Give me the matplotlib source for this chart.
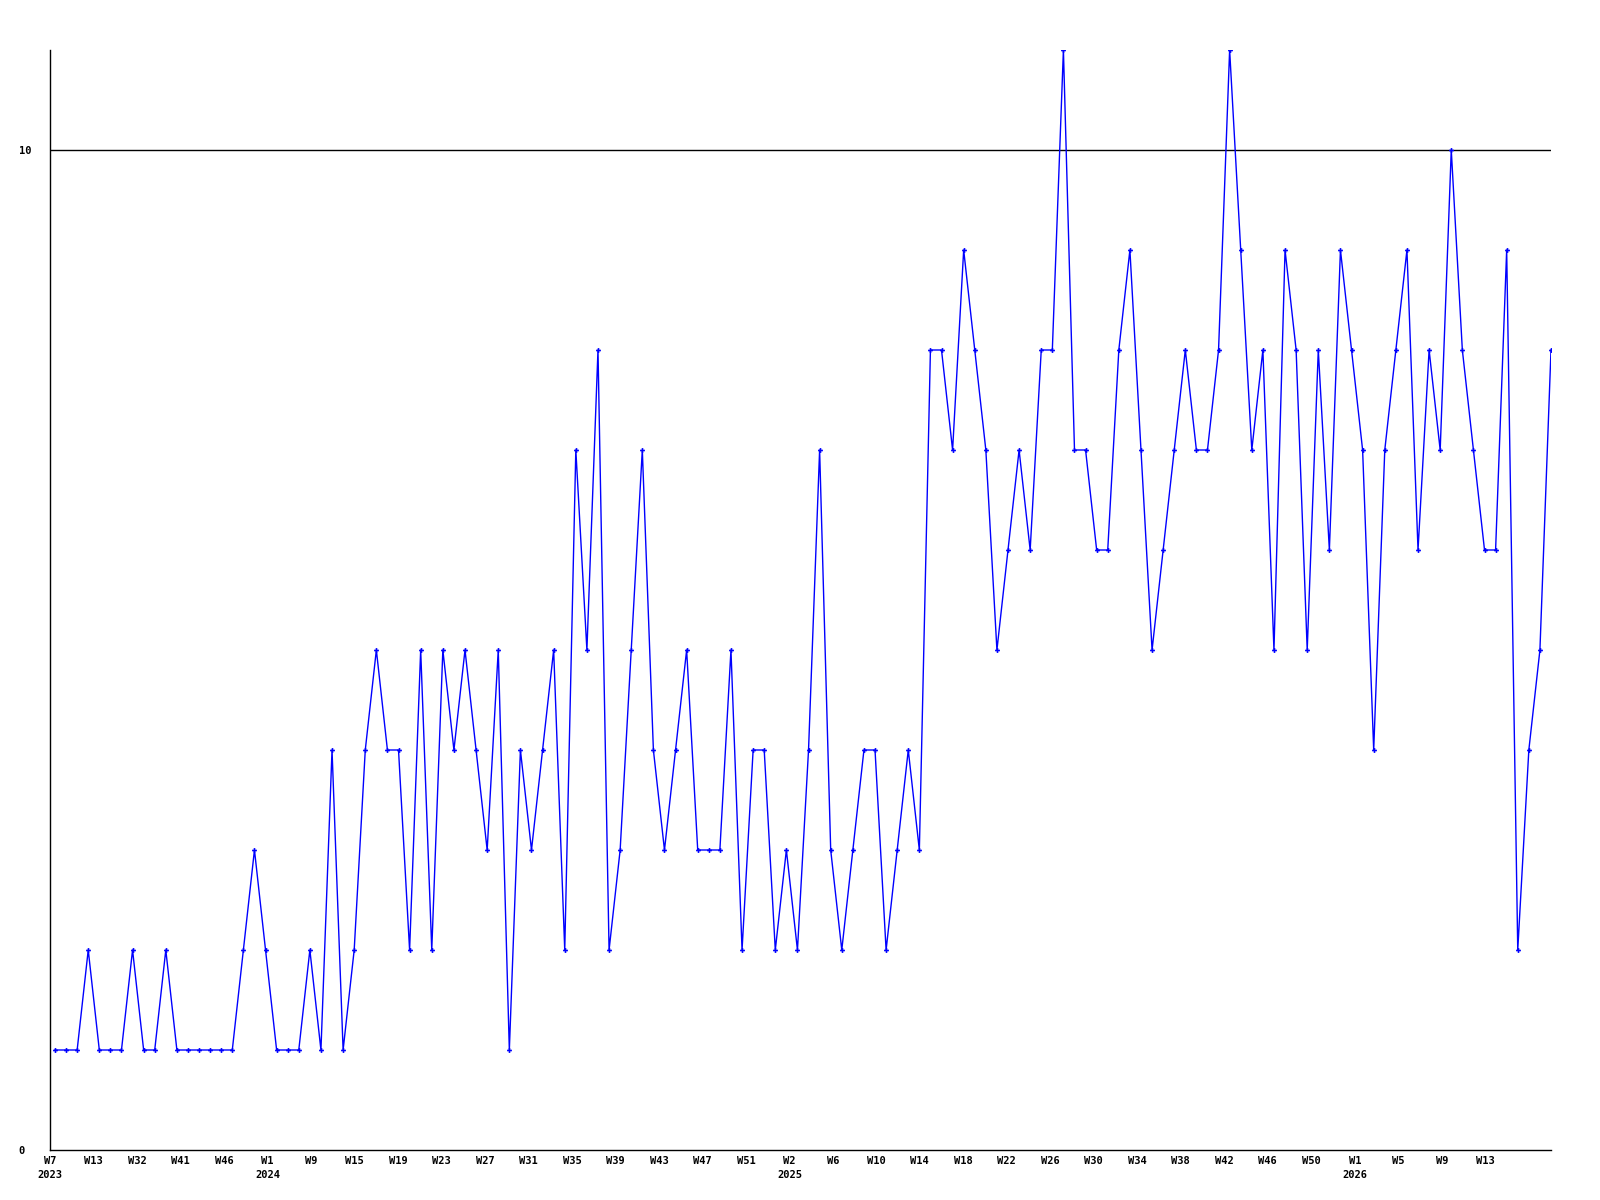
import matplotlib
matplotlib.use("Agg")
import matplotlib.pyplot as plt
import numpy as np

# weekly counts, one value per week with data
valeurs = [1, 1, 1, 2, 1, 1, 1, 2, 1, 1, 2, 1, 1, 1, 1, 1, 1, 2, 3, 2,
           1, 1, 1, 2, 1, 4, 1, 2, 4, 5, 4, 4, 2, 5, 2, 5, 4, 5, 4, 3,
           5, 1, 4, 3, 4, 5, 2, 7, 5, 8, 2, 3, 5, 7, 4, 3, 4, 5, 3, 3,
           3, 5, 2, 4, 4, 2, 3, 2, 4, 7, 3, 2, 3, 4, 4, 2, 3, 4, 3, 8,
           8, 7, 9, 8, 7, 5, 6, 7, 6, 8, 8, 11, 7, 7, 6, 6, 8, 9, 7, 5,
           6, 7, 8, 7, 7, 8, 11, 9, 7, 8, 5, 9, 8, 5, 8, 6, 9, 8, 7, 4,
           7, 8, 9, 6, 8, 7, 10, 8, 7, 6, 6, 9, 2, 4, 5, 8]

semaines = ["W7", "W13", "W32", "W41", "W46", "W1", "W9", "W15", "W19", "W23",
            "W27", "W31", "W35", "W39", "W43", "W47", "W51", "W2", "W6", "W10",
            "W14", "W18", "W22", "W26", "W30", "W34", "W38", "W42", "W46", "W50",
            "W1", "W5", "W9", "W13"]
annees = {0: "2023", 5: "2024", 17: "2025", 30: "2026"}

X = np.arange(len(valeurs))

fig = plt.figure(figsize=(16, 12), dpi=100)
ax = fig.add_axes([50 / 1600, 50 / 1200, 1501 / 1600, 1100 / 1200])

ax.axhline(10, color="black", lw=1, zorder=1)
ax.plot(X, valeurs, color="#0000ff", lw=1, marker="P", ms=3.5,
        mew=0, zorder=3)

ax.set_xlim(0, len(valeurs) - 1)
ax.set_ylim(0, 11)

for s in ["top", "right"]:
    ax.spines[s].set_visible(False)
for s in ["left", "bottom"]:
    ax.spines[s].set_linewidth(1)

# labels are spread a little tighter than the points
pos = np.linspace(-0.45, 129.07, len(semaines))
etiq = []
for k, w in enumerate(semaines):
    if k in annees:
        etiq.append(w + "\n" + annees[k])
    else:
        etiq.append(w)
ax.set_xticks(pos)
ax.set_xticklabels(etiq, fontsize=7.5, fontweight="bold",
                   family="DejaVu Sans Mono", linespacing=1.5, va="top")
ax.tick_params(axis="x", length=0, pad=4)

ax.set_yticks([0, 10])
ax.set_yticklabels(["0", "10"], fontsize=7.5, fontweight="bold",
                   family="DejaVu Sans Mono", ha="left")
ax.tick_params(axis="y", length=0, pad=22.5)

fig.savefig("out.png", dpi=100)
